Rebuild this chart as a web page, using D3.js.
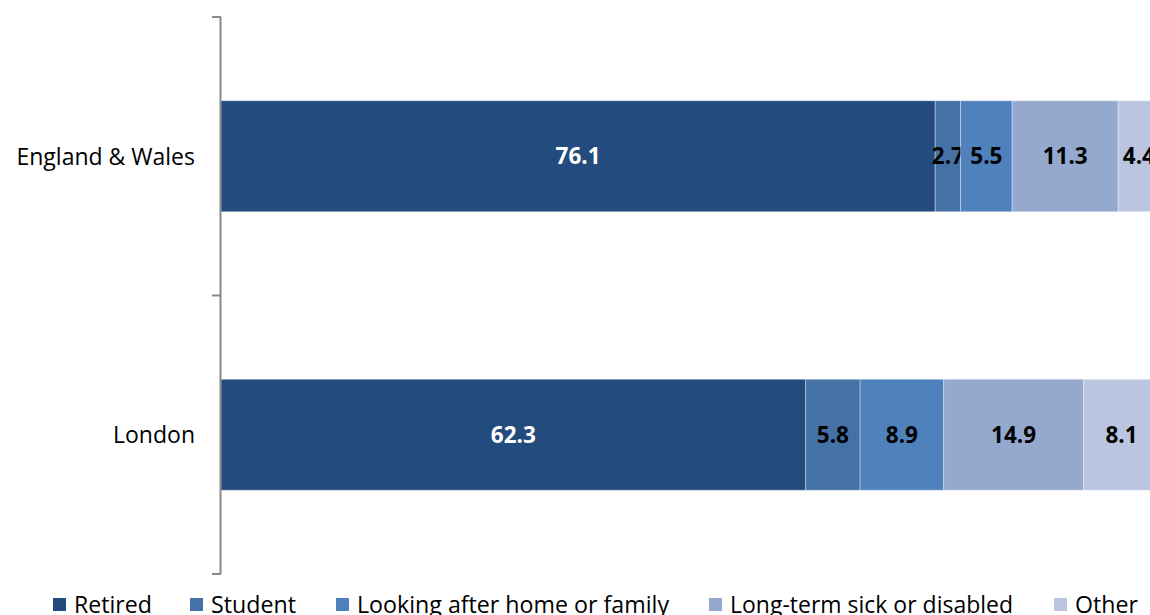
<!DOCTYPE html>
<html><head><meta charset="utf-8">
<script src="https://cdn.jsdelivr.net/npm/d3@7"></script>
<style>body{margin:0;background:#fff;}svg{display:block;}</style>
</head><body>
<svg id="chart" width="1150" height="615"></svg>
<script>
const categories = ["England & Wales", "London"];
const seriesNames = ["Retired", "Student", "Looking after home or family", "Long-term sick or disabled", "Other"];
const retired = [76.1, 62.3];
const student = [2.7, 5.8];
const lookingAfter = [5.5, 8.9];
const longTermSick = [11.3, 14.9];
const other = [4.4, 8.1];
const colors = ["#234B7D", "#4572A6", "#4F81BD", "#95A9CF", "#BAC6E0"];
const labelColors = ["#ffffff", "#000000", "#000000", "#000000", "#000000"];
const legendWidths = [78, 85, 312, 283, 63];

const seriesValues = [retired, student, lookingAfter, longTermSick, other];
const rows = categories.map((c, i) => {
  const r = {category: c};
  seriesNames.forEach((s, k) => r[s] = seriesValues[k][i]);
  return r;
});
const stacked = d3.stack().keys(seriesNames)(rows);

const svg = d3.select("#chart");
const x = d3.scaleLinear().domain([0, 100]).range([221, 1159.5]);
const y = d3.scaleBand().domain(categories).range([17, 574]).paddingInner(0).paddingOuter(0);
const barH = 111;

const g = svg.append("g");
stacked.forEach((layer, k) => {
  const lg = g.append("g");
  lg.selectAll("rect").data(layer).enter().append("rect")
    .attr("x", d => x(d[0]))
    .attr("y", d => y(d.data.category) + y.bandwidth()/2 - barH/2)
    .attr("width", d => x(d[1]) - x(d[0]))
    .attr("height", barH)
    .attr("fill", colors[k])
    .attr("stroke", "#ffffff").attr("stroke-opacity", 0.35).attr("stroke-width", 1);
  lg.selectAll("text").data(layer).enter().append("text")
    .attr("x", d => (x(d[0]) + x(d[1]))/2)
    .attr("y", d => y(d.data.category) + y.bandwidth()/2)
    .attr("dy", "0.36em")
    .attr("text-anchor", "middle")
    .attr("font-family", "'Open Sans', sans-serif")
    .attr("font-weight", "bold")
    .attr("font-size", 22.5)
    .attr("fill", labelColors[k])
    .text(d => d3.format(".1f")(d[1] - d[0]));
});

// axis
const axis = d3.axisLeft(y).tickSize(0).tickFormat("");
const ax = svg.append("g").attr("transform", "translate(220.5,0)").call(axis);
ax.select(".domain").attr("stroke", "#888").attr("stroke-width", 2).attr("d", "M0,17V574");
const tickYs = [17, 295.5, 574];
svg.append("g").selectAll("line").data(tickYs).enter().append("line")
  .attr("x1", 212).attr("x2", 221).attr("y1", d => d).attr("y2", d => d)
  .attr("stroke", "#888").attr("stroke-width", 2);
svg.append("g").selectAll("text").data(categories).enter().append("text")
  .attr("x", 195)
  .attr("y", d => y(d) + y.bandwidth()/2)
  .attr("dy", "0.36em")
  .attr("text-anchor", "end")
  .attr("font-family", "'Open Sans', sans-serif")
  .attr("font-size", 23)
  .attr("fill", "#000")
  .text(d => d);

// legend
const legendX = [53, 190, 336, 709, 1054];
const leg = svg.append("g");
seriesNames.forEach((s, k) => {
  leg.append("rect").attr("x", legendX[k]).attr("y", 598).attr("width", 13).attr("height", 13).attr("fill", colors[k]);
  leg.append("text").attr("x", legendX[k] + 21).attr("y", 613)
    .attr("font-family", "'Open Sans', sans-serif").attr("font-size", 23)
    .attr("textLength", legendWidths[k]).attr("lengthAdjust", "spacingAndGlyphs")
    .attr("fill", "#000").text(s);
});
</script>
</body></html>
